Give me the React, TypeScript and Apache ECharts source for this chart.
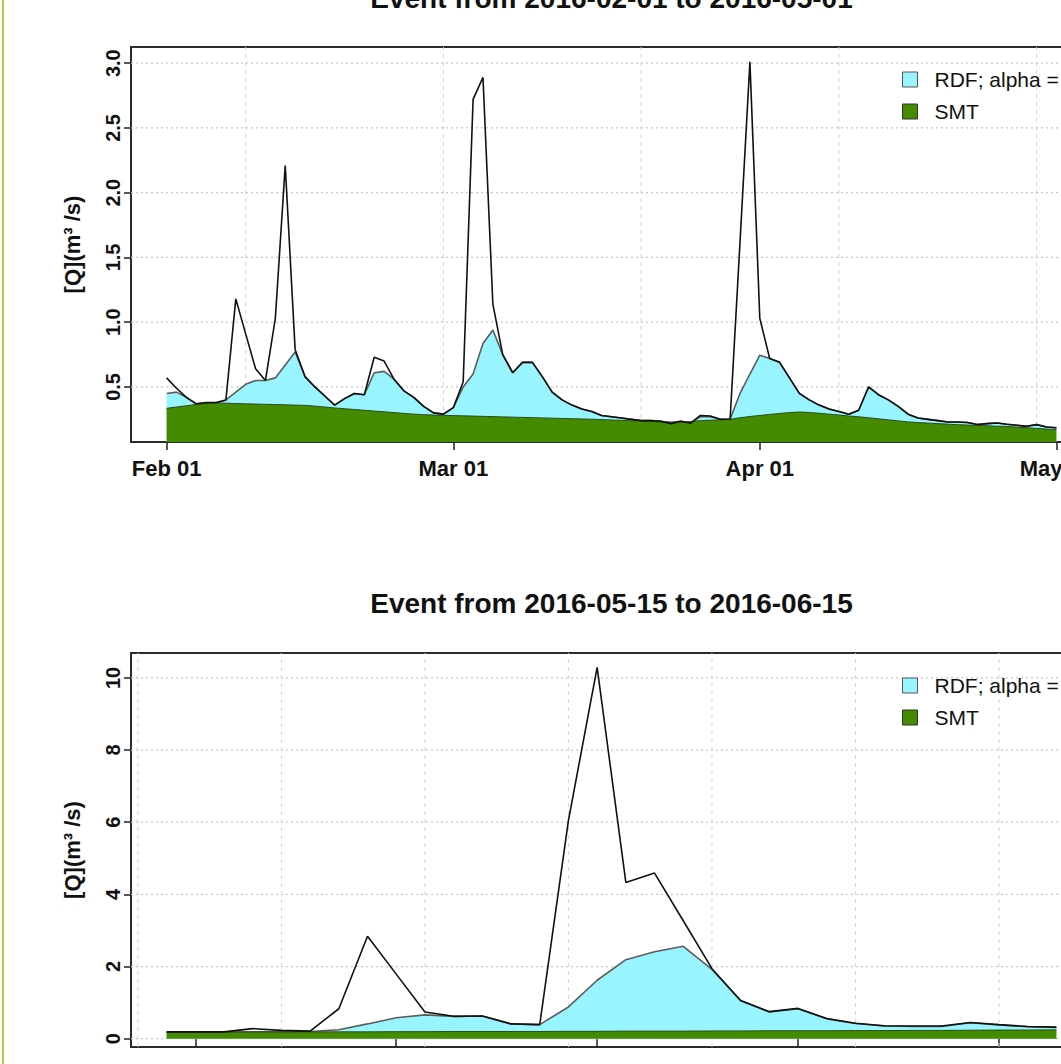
import React, { useEffect, useRef } from 'react';
import * as echarts from 'echarts';

// ---------- data ----------
// x values are days since 1970-01-01 (UTC)
const START_1 = 16832; // 2016-02-01
const START_2 = 16936; // 2016-05-15

const OBS_1 = [
  0.57, 0.49, 0.42, 0.37, 0.38, 0.38, 0.40, 1.18, 0.91, 0.64,
  0.55, 1.03, 2.21, 0.79, 0.58, 0.50, 0.43, 0.36, 0.41, 0.45,
  0.44, 0.73, 0.70, 0.56, 0.47, 0.42, 0.35, 0.30, 0.29, 0.34,
  0.54, 2.72, 2.89, 1.14, 0.75, 0.61, 0.69, 0.69, 0.58, 0.46,
  0.40, 0.36, 0.33, 0.31, 0.28, 0.27, 0.26, 0.25, 0.24, 0.24,
  0.235, 0.217, 0.235, 0.22, 0.28, 0.276, 0.25, 0.253, 1.62, 3.01,
  1.03, 0.72, 0.69, 0.57, 0.45, 0.40, 0.36, 0.33, 0.31, 0.29,
  0.32, 0.50, 0.44, 0.40, 0.35, 0.29, 0.26, 0.25, 0.24, 0.23,
  0.23, 0.225, 0.21, 0.217, 0.222, 0.212, 0.204, 0.196, 0.209, 0.191,
  0.185,
];
const RDF_1 = [
  0.45, 0.46, 0.42, 0.37, 0.375, 0.375, 0.40, 0.46, 0.52, 0.55,
  0.55, 0.57, 0.67, 0.77, 0.58, 0.50, 0.43, 0.36, 0.41, 0.45,
  0.44, 0.61, 0.62, 0.56, 0.47, 0.42, 0.35, 0.30, 0.29, 0.34,
  0.50, 0.60, 0.835, 0.94, 0.75, 0.61, 0.69, 0.69, 0.58, 0.46,
  0.40, 0.36, 0.33, 0.31, 0.28, 0.27, 0.26, 0.25, 0.24, 0.24,
  0.235, 0.225, 0.235, 0.225, 0.27, 0.27, 0.25, 0.253, 0.45, 0.60,
  0.745, 0.72, 0.69, 0.57, 0.45, 0.40, 0.36, 0.33, 0.31, 0.29,
  0.32, 0.50, 0.44, 0.40, 0.35, 0.29, 0.26, 0.25, 0.24, 0.23,
  0.23, 0.225, 0.21, 0.217, 0.222, 0.212, 0.204, 0.196, 0.209, 0.191,
  0.185,
];
const SMT_1 = [
  0.335, 0.345, 0.355, 0.365, 0.372, 0.375, 0.375, 0.372, 0.37, 0.368,
  0.366, 0.364, 0.362, 0.36, 0.358, 0.352, 0.345, 0.338, 0.332, 0.326,
  0.32, 0.314, 0.308, 0.302, 0.296, 0.29, 0.286, 0.283, 0.281, 0.279,
  0.277, 0.275, 0.273, 0.271, 0.269, 0.267, 0.265, 0.263, 0.261, 0.259,
  0.257, 0.255, 0.253, 0.251, 0.248, 0.245, 0.242, 0.239, 0.236, 0.233,
  0.23, 0.228, 0.228, 0.232, 0.24, 0.243, 0.246, 0.25, 0.262, 0.272,
  0.28, 0.288, 0.295, 0.302, 0.307, 0.303, 0.297, 0.29, 0.283, 0.276,
  0.27, 0.262, 0.254, 0.246, 0.238, 0.23, 0.225, 0.221, 0.217, 0.213,
  0.209, 0.206, 0.203, 0.2, 0.197, 0.195, 0.19, 0.185, 0.18, 0.175,
  0.17,
];

const OBS_2 = [
  0.19, 0.19, 0.19, 0.28, 0.23, 0.21, 0.83, 2.84, 1.79, 0.74,
  0.62, 0.63, 0.41, 0.39, 6.05, 10.29, 4.33, 4.59, 3.27, 1.94,
  1.06, 0.75, 0.84, 0.56, 0.43, 0.36, 0.35, 0.35, 0.45, 0.39,
  0.34, 0.32,
];
const RDF_2 = [
  0.185, 0.185, 0.185, 0.19, 0.195, 0.2, 0.25, 0.41, 0.58, 0.66,
  0.62, 0.63, 0.41, 0.39, 0.88, 1.62, 2.19, 2.41, 2.56, 1.92,
  1.05, 0.74, 0.83, 0.55, 0.42, 0.35, 0.34, 0.34, 0.44, 0.38,
  0.33, 0.31,
];
const SMT_2 = [
  0.18, 0.18, 0.18, 0.185, 0.185, 0.19, 0.19, 0.19, 0.195, 0.195,
  0.2, 0.2, 0.2, 0.2, 0.205, 0.205, 0.21, 0.21, 0.21, 0.215,
  0.215, 0.22, 0.22, 0.22, 0.225, 0.225, 0.23, 0.23, 0.235, 0.24,
  0.24, 0.245,
];

const TITLE_1 = 'Event from 2016-02-01 to 2016-05-01';
const TITLE_2 = 'Event from 2016-05-15 to 2016-06-15';
const RDF_NAME = 'RDF; alpha = 0.925';
const SMT_NAME = 'SMT';
const OBS_NAME = 'Observed';
const Y_NAME = '[Q](m³ /s)';

const X_RANGE_1 = [16828.4, 16925.6];
const Y_RANGE_1 = [0.075, 3.125];
const X_RANGE_2 = [16934.76, 16968.24];
const Y_RANGE_2 = [-0.23, 10.69];

const X_TICKS_1 = [16832, 16861, 16892, 16922];
const X_TICK_LABELS_1 = ['Feb 01', 'Mar 01', 'Apr 01', 'May 01'];
const X_TICKS_2 = [16937, 16944, 16951, 16958, 16965];
const X_TICK_LABELS_2 = ['May 16', 'May 23', 'May 30', 'Jun 06', 'Jun 13'];
const X_GRID_1 = [16840, 16860, 16880, 16900, 16920];
const X_GRID_2 = [16935, 16940, 16945, 16950, 16955, 16960, 16965];
const Y_TICKS_1 = [0.5, 1, 1.5, 2, 2.5, 3];
const Y_TICK_LABELS_1 = ['0.5', '1.0', '1.5', '2.0', '2.5', '3.0'];
const Y_TICKS_2 = [0, 2, 4, 6, 8, 10];
const Y_TICK_LABELS_2 = ['0', '2', '4', '6', '8', '10'];

// ---------- styles ----------
const FONT = '"Liberation Sans", Arial, Helvetica, sans-serif';
const CYAN = '#98F5FF';
const GREEN = '#458B00';

const lookup = (ticks: number[], labels: string[]) => (v: number) => {
  const i = ticks.findIndex((t) => Math.abs(t - v) < 1e-6);
  return i >= 0 ? labels[i] : '';
};

function buildPanel(
  idx: number,
  start: number,
  obs: number[],
  rdf: number[],
  smt: number[],
  xRange: number[],
  yRange: number[],
  xTicks: number[],
  xLabels: string[],
  xGrid: number[],
  yTicks: number[],
  yLabels: string[],
  showXLabels: boolean,
  origin: any
) {
  const toPairs = (arr: number[]) => arr.map((v, i) => [start + i, v]);
  const xAxis = {
    type: 'value',
    gridIndex: idx,
    min: xRange[0],
    max: xRange[1],
    axisLine: { show: false },
    axisTick: { show: true, length: 8, lineStyle: { color: '#222', width: 1.5 }, customValues: xTicks },
    axisLabel: {
      show: showXLabels,
      customValues: xTicks,
      formatter: lookup(xTicks, xLabels),
      fontSize: 22,
      fontWeight: 'bold',
      fontFamily: FONT,
      color: '#111',
      margin: 15,
    },
    splitLine: { show: false },
  };
  const yAxis = {
    type: 'value',
    gridIndex: idx,
    min: yRange[0],
    max: yRange[1],
    axisLine: { show: false },
    axisTick: { show: true, length: 7, lineStyle: { color: '#222', width: 1.5 }, customValues: yTicks },
    axisLabel: {
      show: true,
      customValues: yTicks,
      formatter: lookup(yTicks, yLabels),
      rotate: 90,
      margin: 8,
      fontSize: 20,
      fontWeight: 'bold',
      fontFamily: FONT,
      color: '#111',
    },
    splitLine: { show: false },
    name: Y_NAME,
    nameLocation: 'middle',
    nameRotate: 90,
    nameGap: 48,
    nameTextStyle: { fontSize: 22, fontWeight: 'bold', fontFamily: FONT, color: '#111' },
  };
  const gridBase = {
    type: 'line',
    xAxisIndex: idx,
    yAxisIndex: idx,
    symbol: 'none',
    silent: true,
    z: 1,
    emphasis: { disabled: true },
  };
  const vGrid = xGrid.map((v) => ({
    ...gridBase,
    data: [[v, yRange[0]], [v, yRange[1]]],
    lineStyle: { color: '#D4D4D4', type: [4, 4], width: 1 },
  }));
  const hGrid = yTicks.map((v) => ({
    ...gridBase,
    data: [[xRange[0], v], [xRange[1], v]],
    lineStyle: { color: '#C6C6C6', type: [2, 3], width: 1.2 },
  }));
  const series = [
    ...vGrid,
    ...hGrid,
    {
      type: 'line',
      name: RDF_NAME,
      xAxisIndex: idx,
      yAxisIndex: idx,
      data: toPairs(rdf),
      symbol: 'none',
      z: 2,
      lineStyle: { color: '#5c5c5c', width: 1.6 },
      areaStyle: { color: CYAN, opacity: 1, origin },
    },
    {
      type: 'line',
      name: SMT_NAME,
      xAxisIndex: idx,
      yAxisIndex: idx,
      data: toPairs(smt),
      symbol: 'none',
      z: 3,
      lineStyle: { color: '#2c4a1c', width: 1 },
      areaStyle: { color: GREEN, opacity: 1, origin },
    },
    {
      type: 'line',
      name: OBS_NAME,
      xAxisIndex: idx,
      yAxisIndex: idx,
      data: toPairs(obs),
      symbol: 'none',
      z: 4,
      lineStyle: { color: '#111', width: 1.6 },
    },
  ];
  return { xAxis, yAxis, series };
}

const legendFor = (top: number) => ({
  orient: 'vertical',
  left: 902,
  top,
  padding: 0,
  itemWidth: 15,
  itemHeight: 15,
  itemGap: 11,
  selectedMode: false,
  textStyle: { fontSize: 21, color: '#111', fontFamily: FONT, padding: [0, 0, 0, 12] },
  data: [
    { name: RDF_NAME, icon: 'rect', itemStyle: { color: CYAN, borderColor: '#555', borderWidth: 1 } },
    { name: SMT_NAME, icon: 'rect', itemStyle: { color: GREEN, borderColor: '#333', borderWidth: 1 } },
  ],
});

export default function App() {
  const ref = useRef<HTMLDivElement>(null);
  useEffect(() => {
    if (!ref.current) return;
    const chart = echarts.init(ref.current, undefined, { renderer: 'svg' });
    const p1 = buildPanel(0, START_1, OBS_1, RDF_1, SMT_1, X_RANGE_1, Y_RANGE_1, X_TICKS_1, X_TICK_LABELS_1, X_GRID_1, Y_TICKS_1, Y_TICK_LABELS_1, true, 'start');
    const p2 = buildPanel(1, START_2, OBS_2, RDF_2, SMT_2, X_RANGE_2, Y_RANGE_2, X_TICKS_2, X_TICK_LABELS_2, X_GRID_2, Y_TICKS_2, Y_TICK_LABELS_2, false, 0);
    const option: any = {
      animation: false,
      backgroundColor: '#ffffff',
      tooltip: { show: false },
      title: [
        { text: TITLE_1, left: 'center', top: -21, textStyle: { fontSize: 28, fontWeight: 'bold', fontFamily: FONT, color: '#111' } },
        { text: TITLE_2, left: 'center', top: 584, textStyle: { fontSize: 28, fontWeight: 'bold', fontFamily: FONT, color: '#111' } },
      ],
      legend: [legendFor(69), legendFor(675)],
      grid: [
        { left: 131, top: 47, width: 961, height: 395, show: true, borderColor: '#2b2b2b', borderWidth: 2, backgroundColor: 'transparent', containLabel: false },
        { left: 131, top: 653, width: 961, height: 394, show: true, borderColor: '#2b2b2b', borderWidth: 2, backgroundColor: 'transparent', containLabel: false },
      ],
      xAxis: [p1.xAxis, p2.xAxis],
      yAxis: [p1.yAxis, p2.yAxis],
      series: [...p1.series, ...p2.series],
      graphic: [
        { type: 'rect', shape: { x: 2, y: 0, width: 2, height: 1064 }, style: { fill: '#A9D03F' }, silent: true },
      ],
    };
    chart.setOption(option);
    return () => chart.dispose();
  }, []);
  return (
    <div style={{ position: 'fixed', left: 0, top: 0, width: 1061, height: 1064, overflow: 'hidden', background: '#fff' }}>
      <div ref={ref} style={{ width: 1223, height: 1064 }} />
    </div>
  );
}
